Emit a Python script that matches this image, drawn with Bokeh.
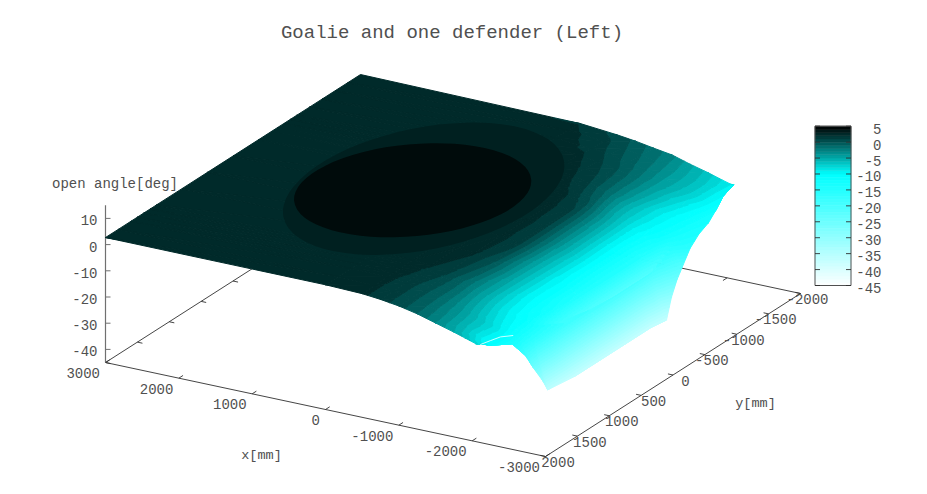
from bokeh.plotting import figure
from bokeh.models import Range1d
from bokeh.core.properties import value
from bokeh.embed import file_html
from bokeh.resources import INLINE

title = "Goalie and one defender (Left)"
x_label = "x[mm]"
y_label = "y[mm]"
z_label = "open angle[deg]"

x_ticks = [3000, 2000, 1000, 0, -1000, -2000, -3000]
y_ticks = [2000, 1500, 1000, 500, 0, -500, -1000, -1500, -2000]
z_ticks = [10, 0, -10, -20, -30, -40]
cb_ticks = [5, 0, -5, -10, -15, -20, -25, -30, -35, -40, -45]

grid_x = [3000, 0, -500, -750, -1000, -1250, -1500, -1750, -1900, -2050, -2125, -2200, -2400]
grid_y = [2000, 1800, 1600, 1500, 1400, 1300, 1200, 800, 400, 0, -400, -600, -700, -800, -900, -1000, -1200, -1400, -1600, -1800, -2000]
x_end = [-2046, -2100, -2196, -2292, -2310, -2358, -2334, -2352, -2352, -2352, -2352, -2390, -2370, -2358, -2340, -2364, -2310, -2268, -2190, -2118, -2088]

grid_z = [
    [2.7, 2.6, 2.2, 1.5, 0.5, -1.0, -3.0, -5.0, -6.3, -7.6, -7.6, -7.6, -7.6],
    [2.7, 2.6, 2.2, 1.5, 0.4, -1.2, -3.3, -6.0, -8.3, -10.5, -11.0, -11.0, -11.0],
    [2.7, 2.6, 2.3, 1.5, 0.4, -1.3, -3.8, -6.3, -7.7, -9.5, -11.0, -13.0, -13.0],
    [2.7, 2.7, 2.4, 1.6, 0.5, -1.3, -4.2, -7.0, -8.5, -10.0, -11.5, -14.0, -18.5],
    [2.7, 2.7, 2.5, 1.8, 0.7, -1.3, -4.5, -7.5, -9.0, -10.5, -12.0, -15.0, -24.5],
    [2.7, 2.7, 2.5, 1.9, 0.9, -1.4, -4.8, -8.0, -9.5, -10.8, -12.5, -15.5, -31.0],
    [2.7, 2.7, 2.6, 2.1, 1.2, -1.5, -5.0, -8.5, -10.0, -11.0, -13.0, -16.0, -36.0],
    [2.7, 2.8, 2.8, 2.5, 2.1, 0.0, -4.8, -9.3, -11.0, -13.0, -18.0, -18.0, -37.0],
    [2.7, 2.9, 2.9, 2.7, 2.3, 1.5, -4.5, -9.0, -11.0, -14.5, -21.0, -19.0, -37.0],
    [2.7, 2.9, 2.9, 2.8, 2.4, 1.4, -3.8, -8.7, -11.5, -15.0, -23.0, -20.0, -37.0],
    [2.7, 2.9, 2.9, 2.8, 2.3, 1.2, -4.0, -9.0, -11.5, -15.0, -23.0, -20.0, -37.0],
    [2.7, 2.9, 2.9, 2.7, 2.1, 0.6, -4.3, -9.0, -11.5, -15.0, -22.0, -20.0, -37.0],
    [2.7, 2.9, 2.9, 2.6, 1.9, 0.0, -4.6, -9.0, -11.2, -14.0, -20.0, -18.5, -30.0],
    [2.7, 2.9, 2.8, 2.5, 1.6, -0.6, -5.0, -9.0, -11.0, -13.5, -18.0, -17.5, -25.0],
    [2.7, 2.8, 2.7, 2.3, 1.3, -1.0, -5.3, -8.8, -10.2, -12.0, -15.0, -15.5, -22.0],
    [2.7, 2.8, 2.7, 2.1, 1.0, -1.4, -5.4, -8.5, -10.0, -11.5, -13.0, -14.0, -16.0],
    [2.7, 2.8, 2.6, 1.8, 0.7, -1.5, -4.6, -8.3, -9.8, -11.0, -12.0, -13.0, -14.0],
    [2.7, 2.7, 2.2, 1.3, 0.2, -1.6, -4.2, -7.0, -8.8, -10.5, -11.5, -12.5, -13.0],
    [2.7, 2.6, 1.7, 0.7, -0.5, -2.0, -4.0, -6.0, -7.4, -9.5, -10.5, -12.0, -12.0],
    [2.7, 2.4, 1.3, 0.2, -1.0, -2.3, -4.2, -6.0, -7.3, -9.3, -10.0, -10.0, -10.0],
    [2.7, 1.9, 0.6, -0.3, -1.5, -2.6, -4.7, -6.5, -7.8, -9.0, -9.0, -9.0, -9.0],
]

# the two raised plateaus in the middle of the surface: centre (mm), height (deg)
ring_x, ring_y, ring_z = 400, 0, 3.1
plateau_x, plateau_y, plateau_z = 550, 0, 4.3

# thin pale fold near the near corner of the surface
fold_x = [-1968, -2010, -2052, -2160]
fold_y = [1836, 1720, 1616, 1540]
fold_z = [-11, -11, -11, -11]


def project(x, y, z=-45.0):
    u = (3000 - x) / 6000
    v = (2000 - y) / 4000
    return 105 + 440 * u + 255 * v, 362 + 94 * u - 163 * v - 2.62 * (z + 45)


def colour(z):
    if z >= -10:
        r, g = 0, 17 * (5 - z)
    else:
        r, g = 255 * (-10 - z) / 35, 255
    return "#%02x%02x%02x" % (int(min(r, 255)), int(min(g, 255)), int(min(g, 255)))


def clip(poly, level, above):
    out = []
    n = len(poly)
    for i in range(n):
        a, b = poly[i], poly[(i + 1) % n]
        ia = (a[2] >= level) if above else (a[2] <= level)
        ib = (b[2] >= level) if above else (b[2] <= level)
        if ia:
            out.append(a)
        if ia != ib:
            t = (level - a[2]) / (b[2] - a[2])
            out.append((a[0] + t * (b[0] - a[0]), a[1] + t * (b[1] - a[1]), level))
    return out


p = figure(width=911, height=478, x_range=Range1d(0, 911), y_range=Range1d(478, 0),
           output_backend="svg", toolbar_location=None, min_border=0,
           outline_line_color=None, background_fill_color="white")
p.xaxis.visible = False
p.yaxis.visible = False
p.grid.visible = False

FONT = value("Liberation Mono")
TXT = "#505050"
LINE = "#303030"

# base frame
corners = [project(3000, 2000), project(-3000, 2000), project(-3000, -2000), project(3000, -2000)]
p.line([c[0] for c in corners + corners[:1]], [c[1] for c in corners + corners[:1]], line_color=LINE, line_width=0.9)

TX = 0.0165
TY = 0.0115
xs, ys = [], []
for t in x_ticks:
    a, b = project(t, 2000), project(t, 2000 - 4000 * TX)
    xs.append([a[0], b[0]]); ys.append([a[1], b[1]])
    a, b = project(t, -2000), project(t, -2000 + 4000 * TX)
    xs.append([a[0], b[0]]); ys.append([a[1], b[1]])
for t in y_ticks:
    a, b = project(3000, t), project(3000 - 6000 * TY, t)
    xs.append([a[0], b[0]]); ys.append([a[1], b[1]])
    a, b = project(-3000, t), project(-3000 + 6000 * TY, t)
    xs.append([a[0], b[0]]); ys.append([a[1], b[1]])
p.multi_line(xs, ys, line_color=LINE, line_width=0.9)

# z axis
a, b = project(3000, 2000, -45), project(3000, 2000, 15)
p.line([a[0], b[0]], [a[1], b[1]], line_color="#707070", line_width=1.2)
xs, ys = [], []
for t in z_ticks:
    c = project(3000, 2000, t)
    xs.append([c[0], c[0] + 5]); ys.append([c[1], c[1]])
p.multi_line(xs, ys, line_color="#707070", line_width=1)

# surface: filled one-degree bands over the grid
cells = []
for i in range(len(grid_y) - 1):
    for j in range(len(grid_x) - 1):
        def node(r, c):
            sx, sy = project(max(grid_x[c], x_end[r]), grid_y[r], grid_z[r][c])
            return (sx, sy, grid_z[r][c])
        n00, n01, n10, n11 = node(i, j), node(i, j + 1), node(i + 1, j), node(i + 1, j + 1)
        for tri in ([n00, n01, n11], [n00, n11, n10]):
            cells.append((sum(q[1] for q in tri) / 3, tri))
cells.sort(key=lambda c: c[0])

px, py, pc = [], [], []
levels = list(range(-45, 5))
for _, tri in cells:
    lo_z = min(q[2] for q in tri)
    hi_z = max(q[2] for q in tri)
    for lev in levels:
        if lev + 1 < lo_z or lev > hi_z:
            continue
        poly = clip(tri, lev, True)
        if len(poly) >= 3:
            poly = clip(poly, lev + 1, False)
        if len(poly) >= 3:
            px.append([q[0] for q in poly])
            py.append([q[1] for q in poly])
            pc.append(colour(lev + 0.5))
p.patches(px, py, fill_color=pc, line_color=pc, line_width=1.0)

# plateaus
rc = project(ring_x, ring_y, ring_z)
p.ellipse([rc[0]], [rc[1] - 7], width=[286], height=[122], angle=[0.2],
          fill_color=colour(ring_z), line_color=None)
pc0 = project(plateau_x, plateau_y, plateau_z)
p.ellipse([pc0[0]], [pc0[1]], width=[238], height=[92], angle=[0.09],
          fill_color=colour(plateau_z), line_color=None)

# fold
fp = [project(a, b, c) for a, b, c in zip(fold_x, fold_y, fold_z)]
p.line([q[0] for q in fp], [q[1] for q in fp], line_color="#c8ffff", line_width=1)


def label(x, y, text, size="14px", align="left", color=TXT):
    p.text([x], [y], text=[text], text_font=FONT, text_font_size=size, text_align=align,
           text_baseline="middle", text_color=color)


label(451.5, 32, title, "19px", "center")
label(114.5, 183, z_label, "14px", "center")
label(261, 455, x_label, "13.5px", "center")
label(755, 403, y_label, "13.5px", "center")

for t in z_ticks:
    c = project(3000, 2000, t)
    label(97, c[1] + 2, str(t), "14px", "right")
for t in x_ticks:
    c = project(t, 2000)
    label(c[0] - 5.5, c[1] + 10.5, str(t), "14px", "right")
for t in y_ticks:
    c = project(-3000, t)
    label(c[0] + (12.5 if t >= 0 else 7), c[1] + 5.5, str(t), "14px", "center")


# colour bar
def cb(z):
    return 285 - (z + 45) * 3.186


CL, CR = 814.5, 850.5
band_colours = [colour(l + 0.5) for l in levels]
p.quad(left=CL, right=CR, top=[cb(l + 1) for l in levels], bottom=[cb(l) for l in levels],
       fill_color=band_colours, line_color=band_colours, line_width=0.6)
p.quad(left=[CL], right=[CR], top=[cb(5)], bottom=[cb(-45)], fill_color=None, line_color="#505050", line_width=1)
xs, ys = [], []
for t in cb_ticks:
    xs.append([CL, CL + 5]); ys.append([cb(t), cb(t)])
    xs.append([CR - 5, CR]); ys.append([cb(t), cb(t)])
p.multi_line(xs, ys, line_color="#303030", line_width=0.9)
for t in cb_ticks:
    label(881, cb(t) + 2.5, str(t), "14px", "right")

open("out.html", "w").write(file_html(p, INLINE))
